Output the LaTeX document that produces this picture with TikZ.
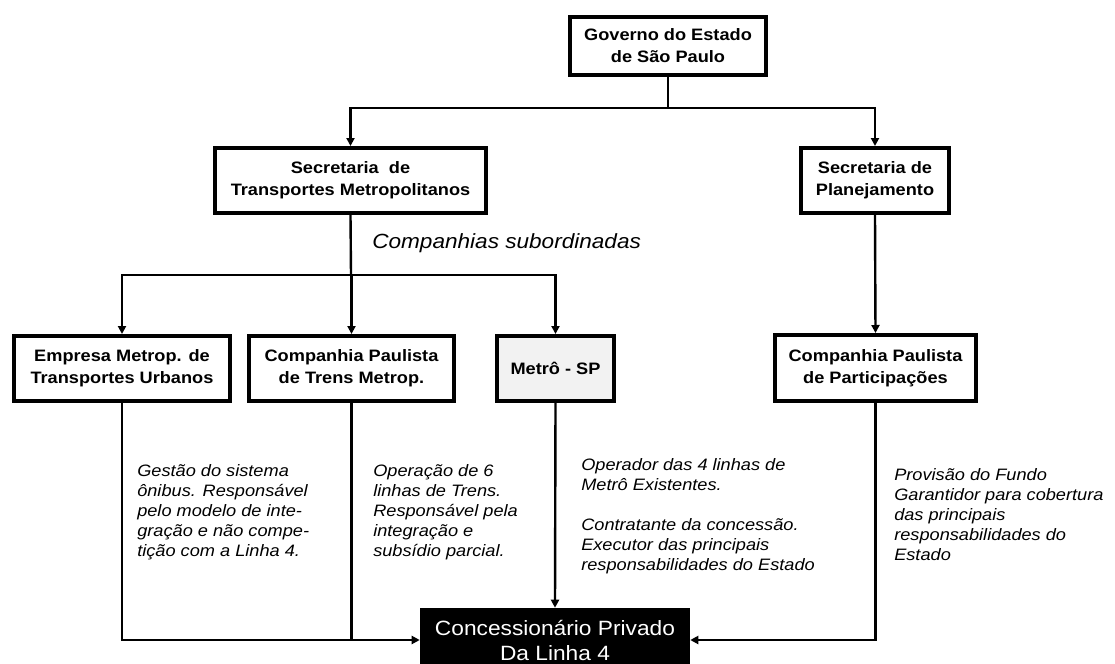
\documentclass[tikz,border=0pt]{standalone}
\usepackage{fontspec}
\setmainfont{Liberation Sans}[FakeStretch=1.1]
\usetikzlibrary{arrows.meta}
\tikzset{
  orgbox/.style={draw, line width=3pt, fill=white, align=center, inner sep=0pt,
    font=\bfseries\fontsize{12.4}{16.5}\selectfont},
  conn/.style={line width=1.8pt},
  arr/.style={conn, -{Triangle[length=6pt,width=6pt]}},
  desc/.style={anchor=north west, align=left, inner sep=0pt,
    font=\itshape\fontsize{12.4}{15}\selectfont},
}
\begin{document}
\begin{tikzpicture}[x=0.75pt,y=-0.75pt]
        \useasboundingbox (0,0) rectangle (1115,664);
        \node [orgbox, minimum width=147pt, minimum height=43.5pt] (gov) at (668,46) {Governo do Estado\\de São Paulo};
        \node [orgbox, minimum width=203.25pt, minimum height=48.75pt] (stm) at (350.5,180.5) {Secretaria\ \ de\\Transportes Metropolitanos};
        \node [orgbox, minimum width=111pt, minimum height=48.75pt] (spl) at (875,180.5) {Secretaria de\\Planejamento};
        \node [orgbox, minimum width=162pt, minimum height=48.75pt] (emtu) at (122,368.5) {Empresa Metrop. de\\Transportes Urbanos};
        \node [orgbox, minimum width=153.75pt, minimum height=48.75pt] (cptm) at (351.5,368.5) {Companhia Paulista\\de Trens Metrop.};
        \node [orgbox, fill=black!5, minimum width=87.75pt, minimum height=48.75pt] (metro) at (555.5,368.5) {Metrô - SP};
        \node [orgbox, minimum width=150.75pt, minimum height=49.5pt] (cpp) at (875.5,368) {Companhia Paulista\\de Participações};
        \node [fill=black, text=white, align=center, inner sep=0pt, minimum width=202.5pt, minimum height=48pt,
               font=\fontsize{15.5}{18.75}\selectfont] (conc) at (555,640) {Concessionário Privado\\Da Linha 4};
        \node [anchor=base west, inner sep=0pt, font=\itshape\fontsize{15.4}{18}\selectfont] (sub) at (372,248) {Companhias subordinadas};
        \node [desc] (temtu) at (137,464) {Gestão do sistema\\ônibus. Responsável\\pelo modelo de inte-\\gração e não compe-\\tição com a Linha 4.};
        \node [desc] (tcptm) at (373,464) {Operação de 6\\linhas de Trens.\\Responsável pela\\integração e\\subsídio parcial.};
        \node [desc] (tmetro) at (581,458) {Operador das 4 linhas de\\Metrô Existentes.\\[15pt]Contratante da concessão.\\Executor das principais\\responsabilidades do Estado};
        \node [desc] (tcpp) at (894,468) {Provisão do Fundo\\Garantidor para cobertura\\das principais\\responsabilidades do\\Estado};
        \coordinate (j1) at (668,108);
        \coordinate (j2) at (351,275);
        \draw [conn] (gov.south)--(j1);
        \draw [arr] (j1)-|(stm.north);
        \draw [arr] (j1)-|(spl.north);
        \draw [conn] (stm.south)--(j2);
        \draw [arr] (j2)-|(emtu.north);
        \draw [arr] (j2)-|(cptm.north);
        \draw [arr] (j2)-|(metro.north);
        \draw [arr] (spl.south)--(cpp.north);
        \draw [arr] (emtu.south)|-(conc.west);
        \draw [conn] (cptm.south)--(cptm.south|-conc.west);
        \draw [arr] (metro.south)--(conc.north);
        \draw [arr] (cpp.south)|-(conc.east);
      \end{tikzpicture}
\end{document}
